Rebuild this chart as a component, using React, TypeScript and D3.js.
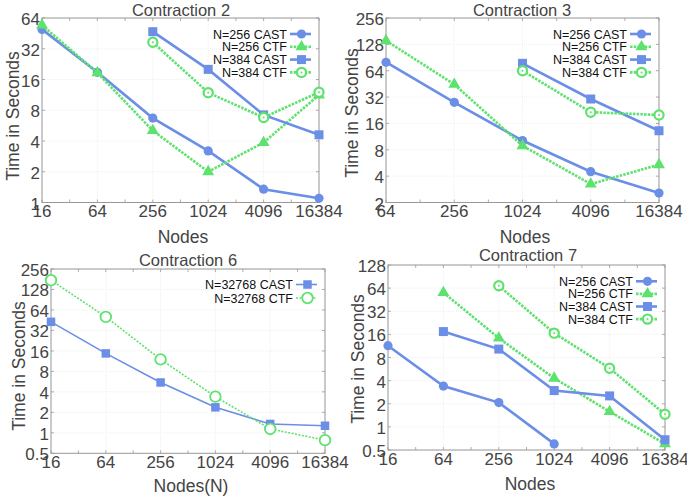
import React from 'react';
import * as d3 from 'd3';

const BLUE = '#6b8ee6';
const GREEN = '#5ee26e';
const TEXT = '#444';
const FONT = '"Liberation Sans", Arial, sans-serif';

// x values (nodes)
const nodes16 = [16, 64, 256, 1024, 4096, 16384];
const nodes64 = [64, 256, 1024, 4096, 16384];
const nodes256 = [256, 1024, 4096, 16384];
const nodes1024 = [1024, 4096, 16384];
const nodes16to1024 = [16, 64, 256, 1024];

// Contraction 2
const c2Cast256 = [49.5, 18.8, 6.7, 3.2, 1.35, 1.1];
const c2Ctf256 = [54.5, 18.6, 5.05, 2.0, 3.86, 11.3];
const c2Cast384 = [47, 20.1, 7.2, 4.6];
const c2Ctf384 = [37, 11.9, 6.8, 12];

// Contraction 3
const c3Cast256 = [80, 27.9, 10.2, 4.5, 2.56];
const c3Ctf256 = [141, 44.7, 8.9, 3.25, 5.4];
const c3Cast384 = [77.7, 30.4, 13.2];
const c3Ctf384 = [64, 21.5, 20];

// Contraction 6
const c6Cast = [42.8, 14.7, 5.5, 2.37, 1.35, 1.27];
const c6Ctf = [175, 50.6, 12, 3.4, 1.14, 0.78];

// Contraction 7
const c7Cast256 = [11.4, 3.4, 2.07, 0.6];
const c7Ctf256 = [56, 14.3, 4.3, 1.58, 0.6];
const c7Cast384 = [17.4, 10.3, 2.97, 2.53, 0.68];
const c7Ctf384 = [68.6, 16.6, 5.8, 1.46];

const xTicksAll = [16, 64, 256, 1024, 4096, 16384];
const xTicksC3 = [64, 256, 1024, 4096, 16384];
const yTicksC2 = [1, 2, 4, 8, 16, 32, 64];
const yTicksC3 = [2, 4, 8, 16, 32, 64, 128, 256];
const yTicksC6 = [0.5, 1, 2, 4, 8, 16, 32, 64, 128, 256];
const yTicksC7 = [0.5, 1, 2, 4, 8, 16, 32, 64, 128];

type Marker = 'circle' | 'triangle' | 'square' | 'ring' | 'ringdot';
type Series = { label: string; x: number[]; y: number[]; ctf: boolean; marker: Marker };

type PanelSpec = {
  title: string;
  xlabel: string;
  xDomain: [number, number];
  yDomain: [number, number];
  xTicks: number[];
  yTicks: number[];
  box: { left: number; top: number; right: number; bottom: number };
  titlePos: [number, number];
  xLabelPos: [number, number];
  yLabelPos: [number, number];
  legend: { x: number; y: number; dy: number };
  series: Series[];
  thin?: boolean;
};

const panels: PanelSpec[] = [
  {
    title: 'Contraction 2',
    xlabel: 'Nodes',
    xDomain: [16, 16384],
    yDomain: [1, 64],
    xTicks: xTicksAll,
    yTicks: yTicksC2,
    box: { left: 42, top: 18, right: 319, bottom: 202.5 },
    titlePos: [181, 15.5],
    xLabelPos: [183, 243],
    yLabelPos: [18.5, 116],
    legend: { x: 287, y: 34, dy: 12.8 },
    series: [
      { label: 'N=256 CAST', x: nodes16, y: c2Cast256, ctf: false, marker: 'circle' },
      { label: 'N=256 CTF', x: nodes16, y: c2Ctf256, ctf: true, marker: 'triangle' },
      { label: 'N=384 CAST', x: nodes256, y: c2Cast384, ctf: false, marker: 'square' },
      { label: 'N=384 CTF', x: nodes256, y: c2Ctf384, ctf: true, marker: 'ringdot' },
    ],
  },
  {
    title: 'Contraction 3',
    xlabel: 'Nodes',
    xDomain: [64, 16384],
    yDomain: [2, 256],
    xTicks: xTicksC3,
    yTicks: yTicksC3,
    box: { left: 386, top: 18, right: 659, bottom: 202.5 },
    titlePos: [522, 15.5],
    xLabelPos: [525, 243],
    yLabelPos: [358, 113],
    legend: { x: 627, y: 34, dy: 12.8 },
    series: [
      { label: 'N=256 CAST', x: nodes64, y: c3Cast256, ctf: false, marker: 'circle' },
      { label: 'N=256 CTF', x: nodes64, y: c3Ctf256, ctf: true, marker: 'triangle' },
      { label: 'N=384 CAST', x: nodes1024, y: c3Cast384, ctf: false, marker: 'square' },
      { label: 'N=384 CTF', x: nodes1024, y: c3Ctf384, ctf: true, marker: 'ringdot' },
    ],
  },
  {
    title: 'Contraction 6',
    xlabel: 'Nodes(N)',
    xDomain: [16, 16384],
    yDomain: [0.5, 256],
    xTicks: xTicksAll,
    yTicks: yTicksC6,
    box: { left: 51, top: 269, right: 325, bottom: 453.3 },
    titlePos: [188, 266],
    xLabelPos: [191, 492],
    yLabelPos: [25, 366],
    legend: { x: 293, y: 284.5, dy: 13.5 },
    thin: true,
    series: [
      { label: 'N=32768 CAST', x: nodes16, y: c6Cast, ctf: false, marker: 'square' },
      { label: 'N=32768 CTF', x: nodes16, y: c6Ctf, ctf: true, marker: 'ring' },
    ],
  },
  {
    title: 'Contraction 7',
    xlabel: 'Nodes',
    xDomain: [16, 16384],
    yDomain: [0.5, 128],
    xTicks: xTicksAll,
    yTicks: yTicksC7,
    box: { left: 388, top: 265, right: 665, bottom: 450 },
    titlePos: [528, 261],
    xLabelPos: [530, 490],
    yLabelPos: [364, 359],
    legend: { x: 633, y: 281.3, dy: 12.6 },
    series: [
      { label: 'N=256 CAST', x: nodes16to1024, y: c7Cast256, ctf: false, marker: 'circle' },
      { label: 'N=256 CTF', x: nodes64, y: c7Ctf256, ctf: true, marker: 'triangle' },
      { label: 'N=384 CAST', x: nodes64, y: c7Cast384, ctf: false, marker: 'square' },
      { label: 'N=384 CTF', x: nodes256, y: c7Ctf384, ctf: true, marker: 'ringdot' },
    ],
  },
];

const MarkerShape = ({ m, x, y, thin }: { m: Marker; x: number; y: number; thin?: boolean }) => {
  if (m === 'circle') return <circle cx={x} cy={y} r={4.6} fill={BLUE} />;
  if (m === 'square') {
    const s = thin ? 8.5 : 9;
    return <rect x={x - s / 2} y={y - s / 2} width={s} height={s} fill={BLUE} />;
  }
  if (m === 'triangle') {
    const path = d3.symbol(d3.symbolTriangle, 62)();
    return <path d={path || ''} transform={`translate(${x},${y})`} fill={GREEN} />;
  }
  if (m === 'ring') {
    return <circle cx={x} cy={y} r={5.3} fill="white" stroke={GREEN} strokeWidth={1.8} />;
  }
  return (
    <g>
      <circle cx={x} cy={y} r={4.6} fill="white" stroke={GREEN} strokeWidth={2.2} />
      <circle cx={x} cy={y} r={1} fill={GREEN} />
    </g>
  );
};

const Panel = ({ p }: { p: PanelSpec }) => {
  const { left, top, right, bottom } = p.box;
  const x = d3.scaleLog().base(2).domain(p.xDomain).range([left, right]);
  const y = d3.scaleLog().base(2).domain(p.yDomain).range([bottom, top]);
  const lw = p.thin ? 1.6 : 2.6;

  // minor x ticks halfway (factor 2) between the labelled ones
  const minorX = p.xTicks.slice(0, -1).map((t) => t * 2);
  const line = d3
    .line<[number, number]>()
    .x((d) => x(d[0]))
    .y((d) => y(d[1]));

  return (
    <g fontFamily={FONT} fill={TEXT}>
      {/* grid */}
      {p.xTicks.map((t) => (
        <line key={'gx' + t} x1={x(t)} x2={x(t)} y1={top} y2={bottom} stroke="#ececec" strokeWidth={0.8} strokeDasharray="1,1" />
      ))}
      {p.yTicks.map((t) => (
        <line key={'gy' + t} x1={left} x2={right} y1={y(t)} y2={y(t)} stroke="#ececec" strokeWidth={0.8} strokeDasharray="1,1" />
      ))}
      {/* ticks on all sides */}
      {[...p.xTicks, ...minorX].map((t) => (
        <g key={'tx' + t} stroke="#999" strokeWidth={0.8}>
          <line x1={x(t)} x2={x(t)} y1={bottom} y2={bottom - 3} />
          <line x1={x(t)} x2={x(t)} y1={top} y2={top + 3} />
        </g>
      ))}
      {p.yTicks.map((t) => (
        <g key={'ty' + t} stroke="#999" strokeWidth={0.8}>
          <line x1={left} x2={left + 3} y1={y(t)} y2={y(t)} />
          <line x1={right} x2={right - 3} y1={y(t)} y2={y(t)} />
        </g>
      ))}
      <rect x={left} y={top} width={right - left} height={bottom - top} fill="none" stroke="#999" strokeWidth={1} />

      {/* tick labels */}
      {p.xTicks.map((t) => (
        <text key={'lx' + t} x={x(t)} y={bottom + 14.5} textAnchor="middle" fontSize={17}>
          {t}
        </text>
      ))}
      {p.yTicks.map((t) => (
        <text key={'ly' + t} x={left - 2} y={y(t) + 7} textAnchor="end" fontSize={17}>
          {t}
        </text>
      ))}

      {/* series */}
      {p.series.map((s, i) => {
        const pts = s.x.map((v, j) => [v, s.y[j]] as [number, number]);
        return (
          <g key={'s' + i}>
            <path
              d={line(pts) || ''}
              fill="none"
              stroke={s.ctf ? GREEN : BLUE}
              strokeWidth={lw}
              strokeDasharray={s.ctf ? (p.thin ? '2,1.5' : '2.5,1.2') : undefined}
            />
            {pts.map((d, j) => (
              <MarkerShape key={j} m={s.marker} x={x(d[0])} y={y(d[1])} thin={p.thin} />
            ))}
          </g>
        );
      })}

      {/* legend */}
      {p.series.map((s, i) => {
        const ly = p.legend.y + i * p.legend.dy;
        const lx = p.legend.x;
        return (
          <g key={'lg' + i}>
            <text x={lx} y={ly + 4.5} textAnchor="end" fontSize={12.5} fill="#111">
              {s.label}
            </text>
            <line
              x1={lx + 3}
              x2={lx + 24}
              y1={ly}
              y2={ly}
              stroke={s.ctf ? GREEN : BLUE}
              strokeWidth={lw}
              strokeDasharray={s.ctf ? (p.thin ? '2,1.5' : '2.5,1.2') : undefined}
            />
            <MarkerShape m={s.marker} x={lx + 14.5} y={ly} thin={p.thin} />
          </g>
        );
      })}

      {/* titles */}
      <text x={p.titlePos[0]} y={p.titlePos[1]} textAnchor="middle" fontSize={16.5}>
        {p.title}
      </text>
      <text x={p.xLabelPos[0]} y={p.xLabelPos[1]} textAnchor="middle" fontSize={17.5}>
        {p.xlabel}
      </text>
      <text
        transform={`translate(${p.yLabelPos[0]},${p.yLabelPos[1]}) rotate(-90)`}
        textAnchor="middle"
        fontSize={17.5}
      >
        Time in Seconds
      </text>
    </g>
  );
};

export default function App() {
  return (
    <svg
      width={687}
      height={499}
      style={{ position: 'absolute', left: 0, top: 0, background: 'white' }}
    >
      {panels.map((p) => (
        <Panel key={p.title} p={p} />
      ))}
    </svg>
  );
}
